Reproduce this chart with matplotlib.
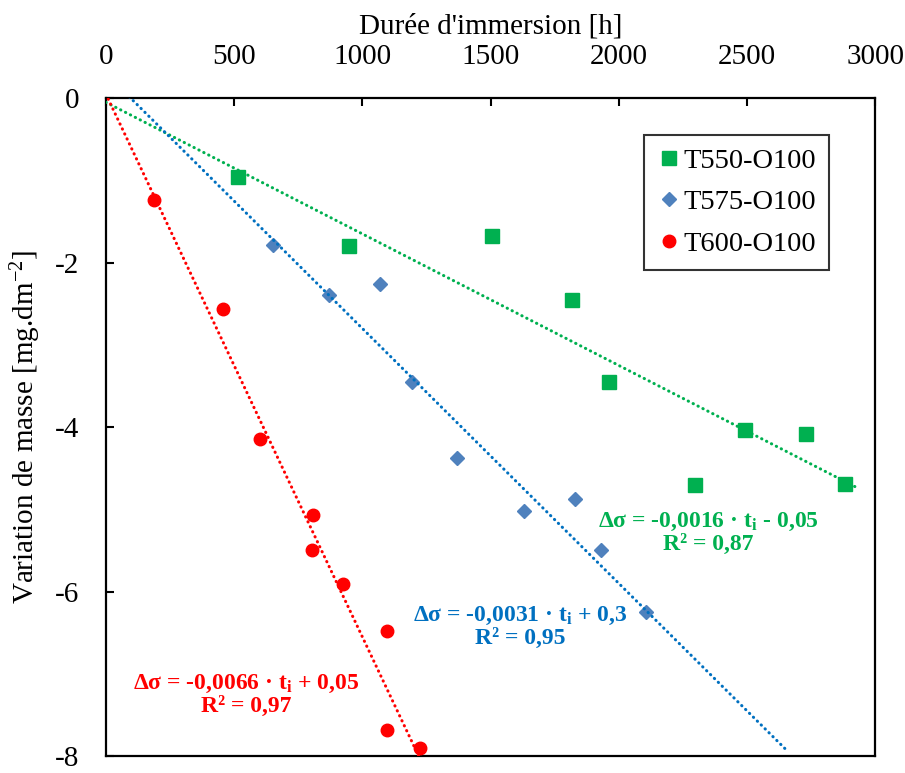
import numpy as np
import matplotlib
matplotlib.use("Agg")
import matplotlib.pyplot as plt

plt.rcParams['font.family'] = ['Liberation Serif', 'DejaVu Serif']
plt.rcParams['mathtext.fontset'] = 'custom'
plt.rcParams['mathtext.rm'] = 'Liberation Serif'
plt.rcParams['mathtext.bf'] = 'Liberation Serif:bold'
plt.rcParams['mathtext.it'] = 'Liberation Serif:italic'
plt.rcParams['axes.unicode_minus'] = False

# Données
t550_t = [515, 948, 1506, 1818, 1963, 2493, 2731, 2298, 2883]
t550_dm = [-0.96, -1.80, -1.68, -2.45, -3.45, -4.03, -4.09, -4.71, -4.69]

t575_t = [652, 870, 1069, 1194, 1370, 1631, 1830, 1931, 2107]
t575_dm = [-1.78, -2.39, -2.26, -3.45, -4.37, -5.02, -4.88, -5.49, -6.25]

t600_t = [187, 456, 601, 807, 805, 925, 1096, 1096, 1225]
t600_dm = [-1.24, -2.56, -4.15, -5.07, -5.49, -5.91, -6.48, -7.68, -7.90]

labels = ['T550-O100', 'T575-O100', 'T600-O100']

# régressions linéaires (pente, ordonnée) et étendue des droites
slopes = [-0.0016, -0.0031, -0.0066]
intercepts = [-0.05, 0.3, 0.05]
fit_end = [2935, 2650, 1220]
r2 = ['0,87', '0,95', '0,97']
eq_texts = [
    'Δσ = -0,0016 · $\\mathbf{t_i}$ - 0,05',
    'Δσ = -0,0031 · $\\mathbf{t_i}$ + 0,3',
    'Δσ = -0,0066 · $\\mathbf{t_i}$ + 0,05',
]
eq_pos = [(2349, -5.29), (1615, -6.43), (546, -7.26)]

marker_colors = ['#00B050', '#4F81BD', '#FF0000']
line_colors = ['#00B050', '#0070C0', '#FF0000']
markers = ['s', 'D', 'o']
msizes = [9.5, 7.5, 9]

fig = plt.figure(figsize=(9.05, 7.73), dpi=100)
ax = fig.add_axes([0.117, 0.022, 0.85, 0.851])

series = [(t550_t, t550_dm), (t575_t, t575_dm), (t600_t, t600_dm)]
for i, (t, dm) in enumerate(series):
    ax.plot(t, dm, linestyle='none', marker=markers[i], ms=msizes[i],
            color=marker_colors[i], label=labels[i], zorder=3)
    x = np.linspace(0, fit_end[i], 200)
    ax.plot(x, slopes[i] * x + intercepts[i], color=line_colors[i],
            lw=2.2, linestyle=(0, (0.1, 1.7)), dash_capstyle='round', zorder=4)
    ax.text(eq_pos[i][0], eq_pos[i][1], eq_texts[i] + '\nR² = ' + r2[i],
            color=line_colors[i], fontsize=17, fontweight='bold',
            ha='center', va='center', multialignment='center', linespacing=1.05)

ax.set_xlim(0, 3000)
ax.set_ylim(-8, 0)
ax.set_xticks(np.arange(0, 3001, 500))
ax.set_yticks(np.arange(-8, 1, 2))
ax.xaxis.tick_top()
ax.xaxis.set_label_position('top')
ax.tick_params(axis='both', direction='in', length=6, width=1.5, labelsize=21, pad=20)
ax.tick_params(axis='y', pad=19)
for s in ax.spines.values():
    s.set_linewidth(1.6)

ax.set_xlabel("Durée d'immersion [h]", fontsize=21, labelpad=8)
ax.set_ylabel('Variation de masse [mg.dm$^{\\mathregular{-2}}$]', fontsize=21, labelpad=9)

leg = ax.legend(loc='upper right', bbox_to_anchor=(0.94, 0.944), borderaxespad=0,
                fontsize=20.5, frameon=True, fancybox=False, handlelength=0.9,
                handletextpad=0.05, borderpad=0.45, labelspacing=0.55)
leg.get_frame().set_edgecolor('black')
leg.get_frame().set_linewidth(1.5)

fig.savefig('out.png', dpi=100)
